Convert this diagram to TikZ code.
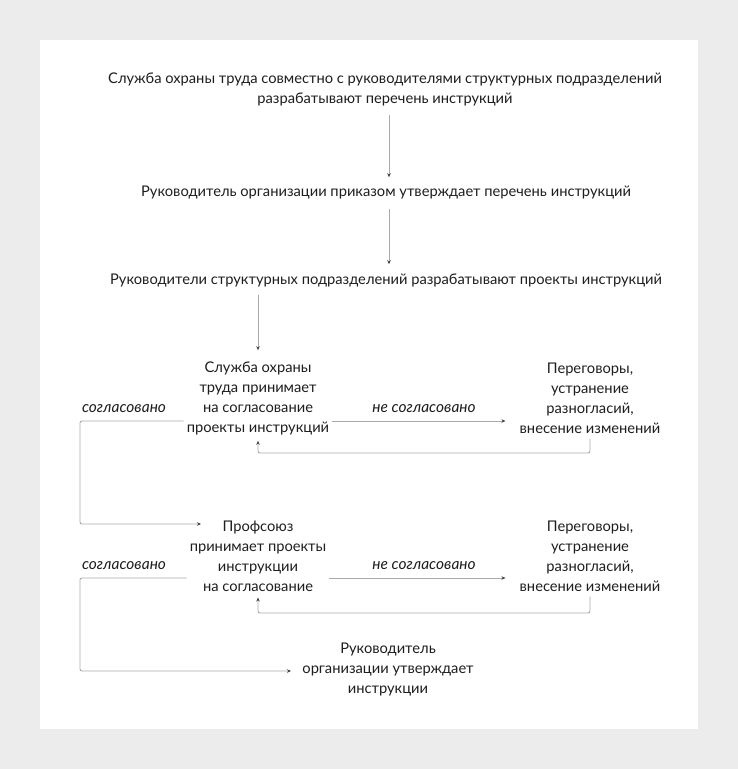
\documentclass[tikz,border=0pt]{standalone}
\usepackage{fontspec}
\setmainfont{Lato}
\usetikzlibrary{arrows.meta}
\definecolor{bggray}{HTML}{ECECEC}
\definecolor{linegray}{HTML}{AAAAAA}
\definecolor{tipgray}{HTML}{444444}
\definecolor{txt}{HTML}{1E1E1E}
\tikzset{
  txtnode/.style={inner sep=3pt, align=center, text=txt, font=\fontsize{14.7}{20}\selectfont},
  lbl/.style={inner sep=0pt, text=txt, font=\fontsize{15.5}{20}\selectfont\itshape},
  arr/.style={draw=linegray, line width=0.9pt, rounded corners=2pt,
    -{Stealth[length=4pt,width=3.5pt,color=tipgray]}},
}
\begin{document}
\begin{tikzpicture}[x=1pt,y=-1pt]
\useasboundingbox (0,0) rectangle (738,769);
\fill[bggray] (0,0) rectangle (738,769);
\fill[white] (40,40) rectangle (698,729);

\node[txtnode] (t1) at (385,89) {Служба охраны труда совместно с руководителями структурных подразделений\\разрабатывают перечень инструкций};
\node[txtnode] (t2) at (386,193) {Руководитель организации приказом утверждает перечень инструкций};
\node[txtnode] (t3) at (386,280) {Руководители структурных подразделений разрабатывают проекты инструкций};
\node[txtnode] (A) at (258,398) {Служба охраны\\труда принимает\\на согласование\\проекты инструкций};
\node[txtnode] (R1) at (590,398) {Переговоры,\\устранение\\разногласий,\\внесение изменений};
\node[txtnode] (B) at (258,556) {Профсоюз\\принимает проекты\\инструкции\\на согласование};
\node[txtnode] (R2) at (590,556) {Переговоры,\\устранение\\разногласий,\\внесение изменений};
\node[txtnode] (C) at (388,670) {Руководитель\\организации утверждает\\инструкции};

\node[lbl] (s1) at (124,409) {согласовано};
\node[lbl] (n1) at (424,409) {не согласовано};
\node[lbl] (s2) at (124,566) {согласовано};
\node[lbl] (n2) at (424,566) {не согласовано};

% helper coordinates
\coordinate (x1) at (389,0);
\coordinate (rowA) at (0,421);
\coordinate (rowB) at (0,578);
\coordinate (fbA) at (0,453);
\coordinate (fbB) at (0,613);
\coordinate (leftx) at (80,0);
\coordinate (Bin) at (201,524);
\coordinate (Cin) at (291,671);

\draw[arr, shorten <=6pt, shorten >=6pt] (t1.south -| x1) -- (t2.north -| x1);
\draw[arr, shorten <=6pt, shorten >=6pt] (t2.south -| x1) -- (t3.north -| x1);
\draw[arr, shorten <=5pt, shorten >=8pt] (t3.south -| A.north) -- (A.north);

\draw[arr] (A.east |- rowA) -- ([xshift=-11pt]R1.west |- rowA);
\draw[arr] ([yshift=-2pt]R1.south) -- (R1.south |- fbA) -| ([yshift=-3pt]A.south);
\draw[arr] (A.west |- rowA) -| (leftx |- Bin) -- (Bin);

\draw[arr] (B.east |- rowB) -- ([xshift=-11pt]R2.west |- rowB);
\draw[arr] ([yshift=-2pt]R2.south) -- (R2.south |- fbB) -| ([yshift=-3pt]B.south);
\draw[arr] (B.west |- rowB) -| (leftx |- Cin) -- (Cin);
\end{tikzpicture}
\end{document}
